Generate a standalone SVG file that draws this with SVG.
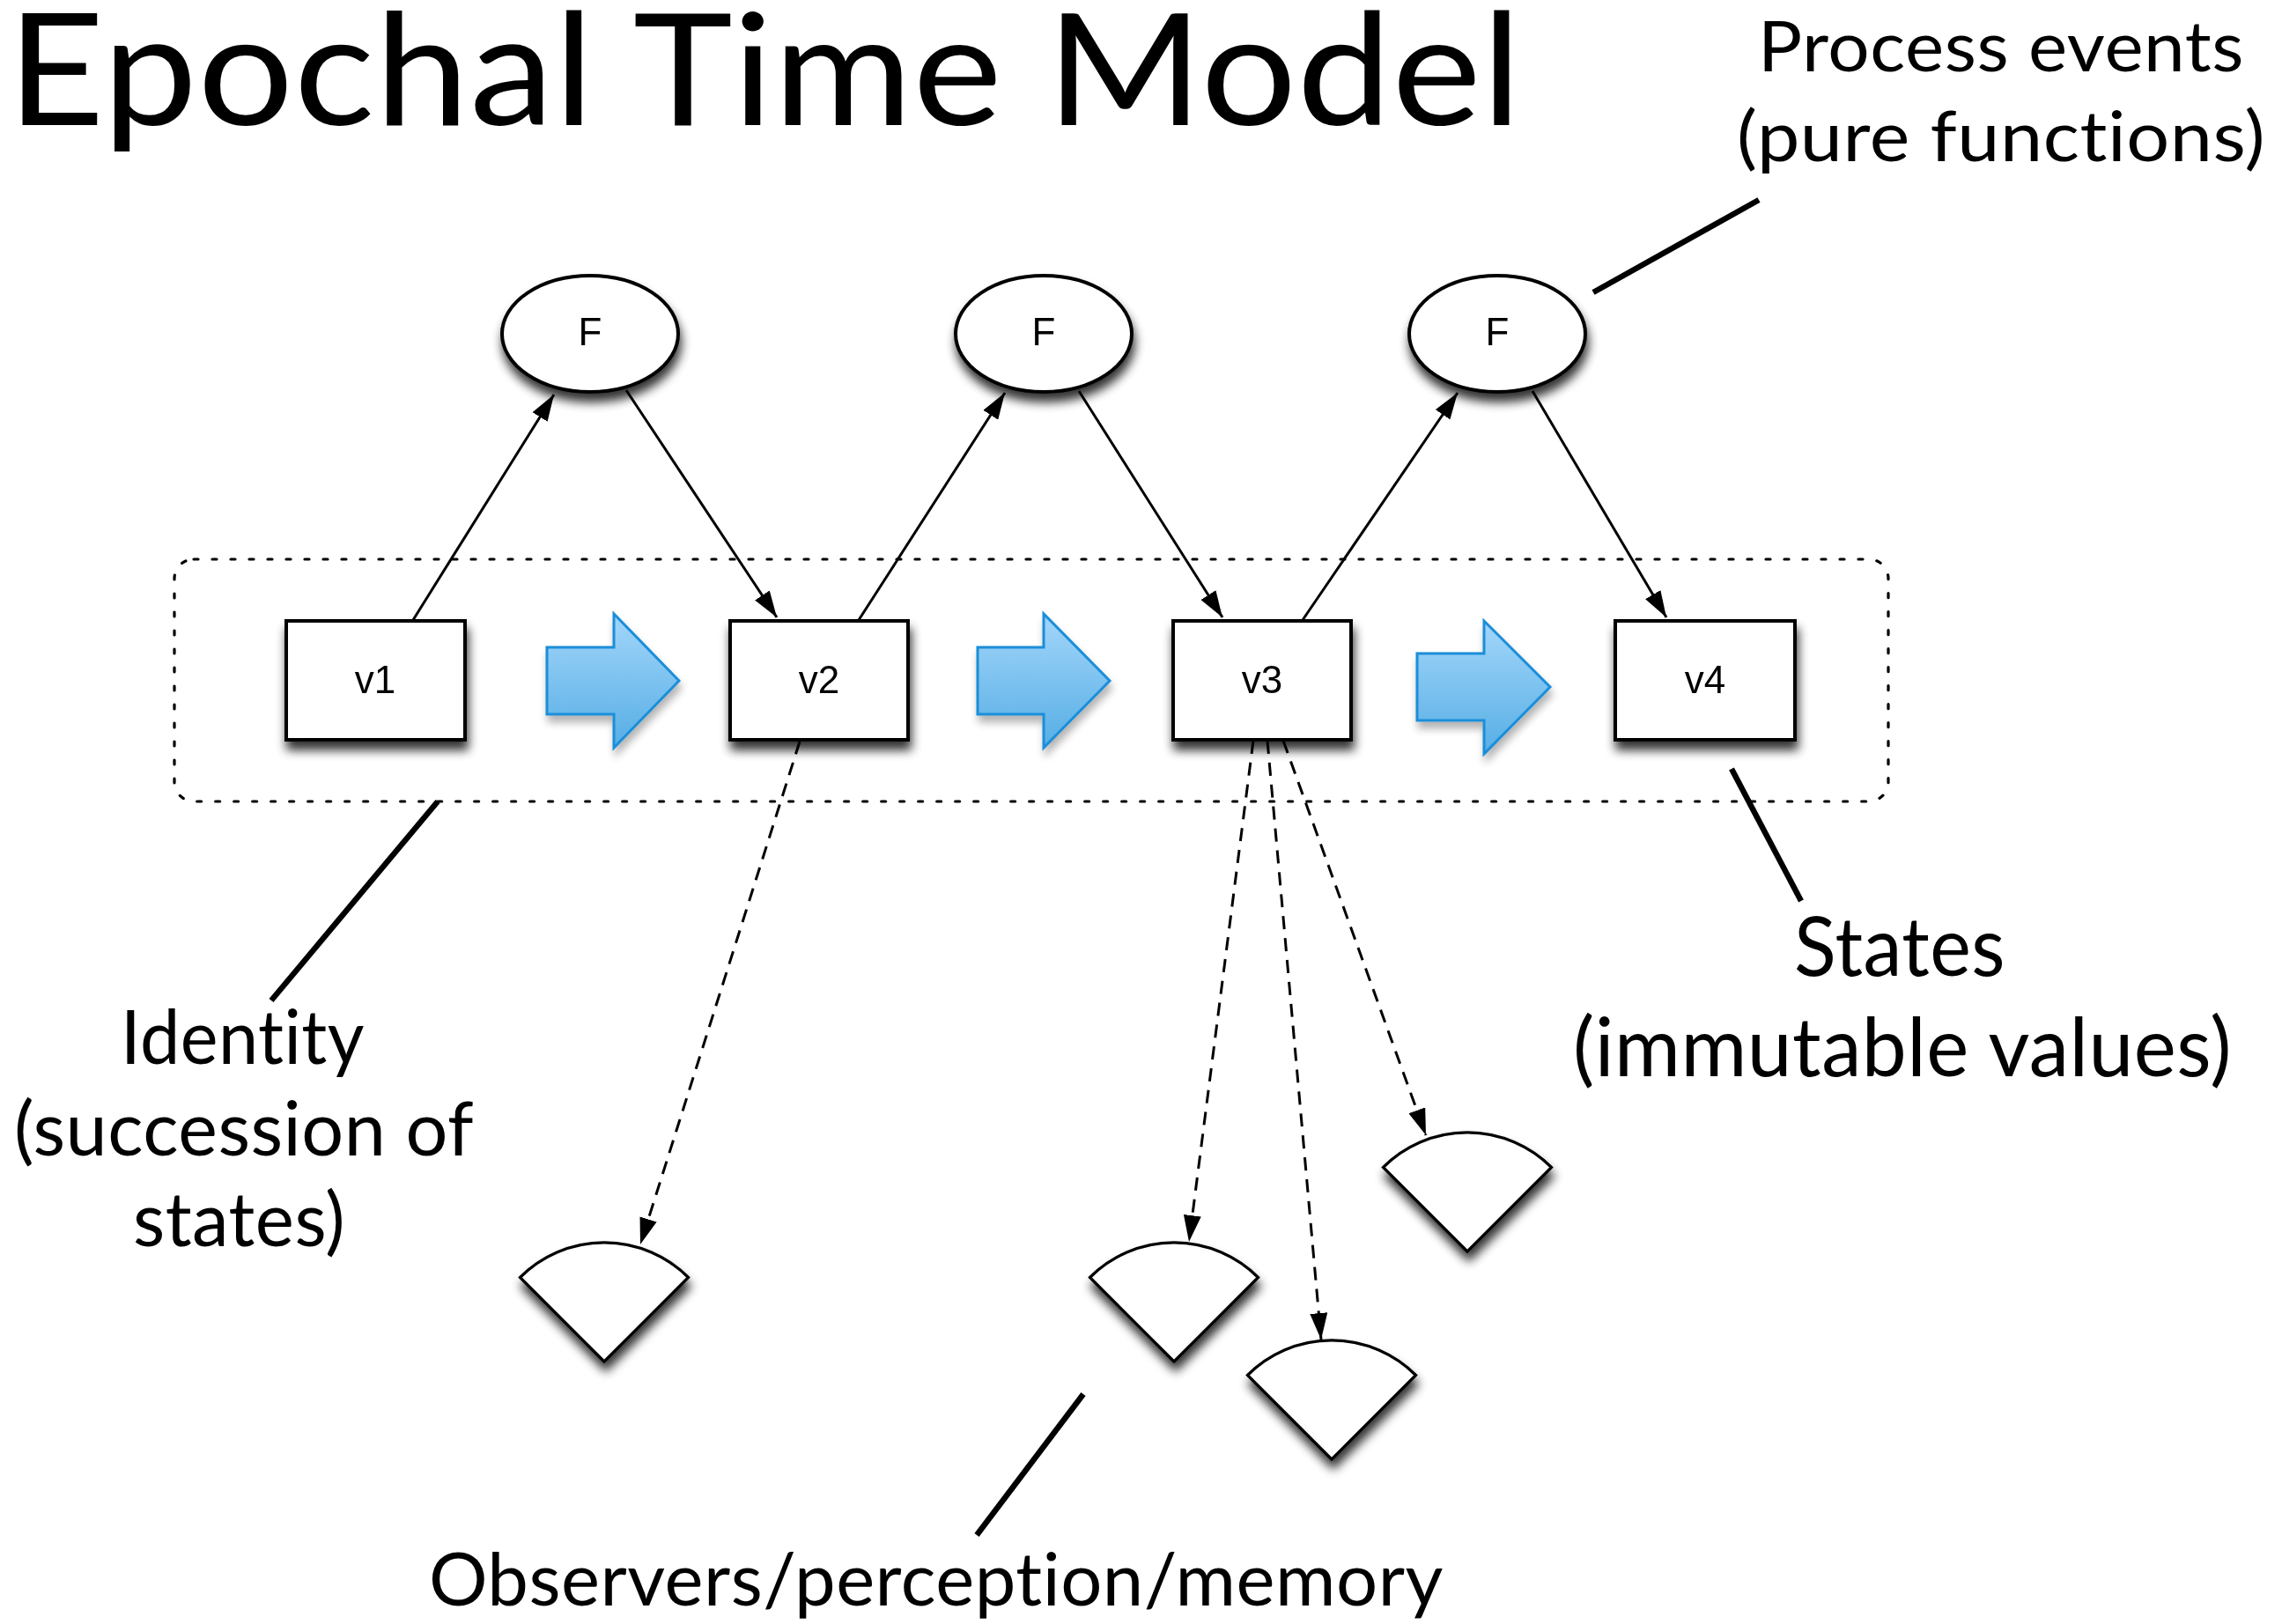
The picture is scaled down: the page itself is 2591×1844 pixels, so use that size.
<svg xmlns="http://www.w3.org/2000/svg" width="2591" height="1844" viewBox="0 0 2591 1844">
<style>
.lbl{font-family:"Lato","Open Sans","Liberation Sans",sans-serif;fill:#000;font-variant-ligatures:none;font-feature-settings:"liga" 0,"dlig" 0;letter-spacing:0.5px}
.nl{font-family:"Liberation Sans",Arial,sans-serif;font-size:44px;fill:#000;text-anchor:middle}
.node{fill:#fff;stroke:#000;stroke-width:4}
.obs{fill:#fff;stroke:#000;stroke-width:3.2}
.blk{fill:url(#blue);stroke:#1a8ed8;stroke-width:3;stroke-linejoin:miter}
.edge{fill:none;stroke:#000;stroke-width:3}
.dash{fill:none;stroke:#000;stroke-width:3;stroke-dasharray:15 10}
.call{fill:none;stroke:#000;stroke-width:6.5}
</style>
<defs>
<linearGradient id="blue" x1="0" y1="0" x2="0" y2="1">
<stop offset="0" stop-color="#a3d6fa"/>
<stop offset="1" stop-color="#56aee5"/>
</linearGradient>
<filter id="sh" x="-30%" y="-30%" width="160%" height="170%">
<feGaussianBlur in="SourceAlpha" stdDeviation="6"/>
<feOffset dx="2" dy="10"/>
<feComponentTransfer><feFuncA type="linear" slope="0.8"/></feComponentTransfer>
<feMerge><feMergeNode/><feMergeNode in="SourceGraphic"/></feMerge>
</filter>
<filter id="sh2" x="-30%" y="-30%" width="160%" height="170%">
<feGaussianBlur in="SourceAlpha" stdDeviation="5"/>
<feOffset dx="2" dy="8"/>
<feComponentTransfer><feFuncA type="linear" slope="0.3"/></feComponentTransfer>
<feMerge><feMergeNode/><feMergeNode in="SourceGraphic"/></feMerge>
</filter>
<marker id="ah" viewBox="0 0 30 20" refX="30" refY="10" markerWidth="30" markerHeight="20" markerUnits="userSpaceOnUse" orient="auto">
<path d="M0,0 L30,10 L0,20 Z" fill="#000"/>
</marker>
</defs>
<rect width="2591" height="1844" fill="#fff"/>

<g id="title">
<text class="lbl" x="8" y="142" font-size="177" textLength="1720" lengthAdjust="spacingAndGlyphs">Epochal Time Model</text>
</g>

<g id="identity-group">
<rect x="198" y="635" width="1946" height="275" rx="22" ry="22" fill="none" stroke="#000" stroke-width="3.2" stroke-dasharray="5 16" stroke-linecap="round"/>
</g>

<g id="connectors">
<line class="edge" x1="469" y1="704" x2="629" y2="448" marker-end="url(#ah)"/>
<line class="edge" x1="711" y1="443" x2="882" y2="701" marker-end="url(#ah)"/>
<line class="edge" x1="975" y1="704" x2="1141" y2="446" marker-end="url(#ah)"/>
<line class="edge" x1="1225" y1="444" x2="1388" y2="701" marker-end="url(#ah)"/>
<line class="edge" x1="1479" y1="704" x2="1655" y2="446" marker-end="url(#ah)"/>
<line class="edge" x1="1740" y1="444" x2="1892" y2="701" marker-end="url(#ah)"/>
<line class="dash" x1="908" y1="842" x2="727" y2="1413" marker-end="url(#ah)"/>
<line class="dash" x1="1423" y1="841" x2="1350" y2="1410" marker-end="url(#ah)"/>
<line class="dash" x1="1439" y1="841" x2="1500" y2="1521" marker-end="url(#ah)"/>
<line class="dash" x1="1457" y1="841" x2="1619" y2="1289" marker-end="url(#ah)"/>
</g>

<g id="F1" filter="url(#sh)"><ellipse class="node" cx="670" cy="379" rx="100" ry="66"/><text class="nl" x="670" y="392">F</text></g>
<g id="F2" filter="url(#sh)"><ellipse class="node" cx="1185" cy="379" rx="100" ry="66"/><text class="nl" x="1185" y="392">F</text></g>
<g id="F3" filter="url(#sh)"><ellipse class="node" cx="1700" cy="379" rx="100" ry="66"/><text class="nl" x="1700" y="392">F</text></g>

<g id="v1" filter="url(#sh)"><rect class="node" x="325" y="705" width="203" height="135"/><text class="nl" x="426" y="787">v1</text></g>
<g id="v2" filter="url(#sh)"><rect class="node" x="829" y="705" width="202" height="135"/><text class="nl" x="930" y="787">v2</text></g>
<g id="v3" filter="url(#sh)"><rect class="node" x="1332" y="705" width="202" height="135"/><text class="nl" x="1433" y="787">v3</text></g>
<g id="v4" filter="url(#sh)"><rect class="node" x="1834" y="705" width="204" height="135"/><text class="nl" x="1936" y="787">v4</text></g>

<g id="step1" filter="url(#sh2)"><path class="blk" d="M621,735 L697,735 L697,697 L771,773 L697,849 L697,811 L621,811 Z"/></g>
<g id="step2" filter="url(#sh2)"><path class="blk" d="M1110,735 L1185,735 L1185,697 L1260,773 L1185,849 L1185,811 L1110,811 Z"/></g>
<g id="step3" filter="url(#sh2)"><path class="blk" d="M1609,742 L1685,742 L1685,705 L1760,780 L1685,856 L1685,818 L1609,818 Z"/></g>

<g id="obs1" filter="url(#sh)"><path class="obs" d="M686,1546 L590.5,1450.5 A135,135 0 0 1 781.5,1450.5 Z"/></g>
<g id="obs2" filter="url(#sh)"><path class="obs" d="M1333,1546 L1237.5,1450.5 A135,135 0 0 1 1428.5,1450.5 Z"/></g>
<g id="obs3" filter="url(#sh)"><path class="obs" d="M1512,1657 L1416.5,1561.5 A135,135 0 0 1 1607.5,1561.5 Z"/></g>
<g id="obs4" filter="url(#sh)"><path class="obs" d="M1666,1421 L1570.5,1325.5 A135,135 0 0 1 1761.5,1325.5 Z"/></g>

<g id="callouts">
<line class="call" x1="1997" y1="227" x2="1809" y2="332"/>
<line class="call" x1="497" y1="910" x2="308" y2="1136"/>
<line class="call" x1="1966" y1="873" x2="2045" y2="1023"/>
<line class="call" x1="1230" y1="1583" x2="1109" y2="1743"/>
</g>

<g id="label-process">
<text class="lbl" x="1996" y="81" font-size="80" textLength="552" lengthAdjust="spacingAndGlyphs">Process events</text>
<text class="lbl" x="1972" y="183" font-size="80" textLength="600" lengthAdjust="spacingAndGlyphs">(pure functions)</text>
</g>
<g id="label-identity">
<text class="lbl" x="137" y="1208" font-size="86" textLength="277" lengthAdjust="spacingAndGlyphs">Identity</text>
<text class="lbl" x="16" y="1312" font-size="86" textLength="522" lengthAdjust="spacingAndGlyphs">(succession of</text>
<text class="lbl" x="151" y="1415" font-size="86" textLength="241" lengthAdjust="spacingAndGlyphs">states)</text>
</g>
<g id="label-states">
<text class="lbl" x="2037" y="1108" font-size="93" textLength="240" lengthAdjust="spacingAndGlyphs">States</text>
<text class="lbl" x="1786" y="1222" font-size="93" textLength="748" lengthAdjust="spacingAndGlyphs">(immutable values)</text>
</g>
<g id="label-observers">
<text class="lbl" x="487" y="1823" font-size="84" textLength="1152" lengthAdjust="spacingAndGlyphs">Observers/perception/memory</text>
</g>
</svg>
